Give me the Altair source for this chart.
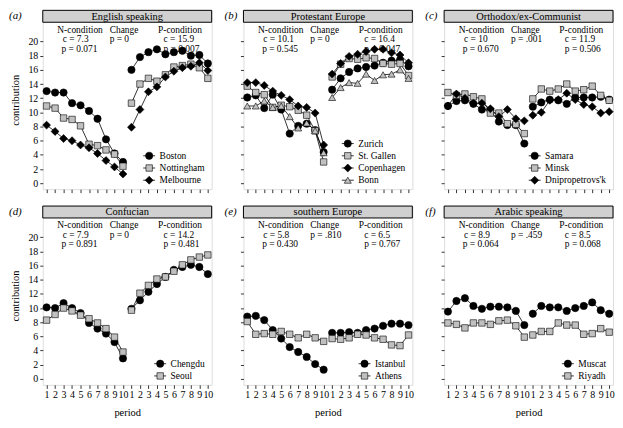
import altair as alt
import pandas as pd

FONT = "Liberation Serif"

periods = list(range(1, 21))

panel_letters = ["(a)", "(b)", "(c)", "(d)", "(e)", "(f)"]
panel_titles = ["English speaking", "Protestant Europe", "Orthodox/ex-Communist",
                "Confucian", "southern Europe", "Arabic speaking"]
n_c = ["7.3", "10.1", "10", "7.9", "5.8", "8.9"]
n_p = ["0.071", "0.545", "0.670", "0.891", "0.430", "0.064"]
change_p = ["0", "0", ".001", "0", ".810", ".459"]
p_c = ["15.9", "16.4", "11.9", "14.2", "6.5", "8.5"]
p_p = ["0.007", "0.047", "0.506", "0.481", "0.767", "0.068"]

# contributions, periods 1-10 (N-condition) then 1-10 (P-condition)
boston = [13.0, 12.8, 12.8, 11.3, 11.0, 10.2, 9.1, 6.2, 4.2, 3.0,
          16.0, 17.8, 18.5, 18.9, 18.2, 18.5, 18.7, 18.0, 18.1, 16.9]
nottingham = [10.9, 10.6, 9.2, 9.0, 8.1, 5.5, 5.3, 4.7, 4.1, 2.4,
              11.3, 14.0, 14.8, 14.4, 15.3, 16.4, 16.6, 16.8, 16.3, 14.8]
melbourne = [8.2, 7.3, 6.3, 6.0, 5.4, 5.0, 4.2, 3.2, 2.3, 1.3,
             7.9, 10.4, 12.9, 13.6, 15.0, 15.8, 16.3, 16.5, 17.0, 15.9]

zurich = [12.1, 12.4, 10.6, 12.5, 10.4, 7.0, 8.1, 8.4, 7.5, 4.4,
          13.2, 14.8, 15.7, 16.2, 16.4, 16.6, 17.0, 17.3, 17.4, 16.5]
st_gallen = [13.7, 12.8, 12.5, 10.7, 11.0, 10.8, 10.3, 9.6, 7.4, 3.0,
             15.0, 16.8, 17.6, 17.5, 17.7, 17.6, 16.9, 16.8, 16.9, 15.2]
copenhagen = [14.2, 14.2, 13.8, 13.0, 12.4, 11.8, 10.9, 10.7, 9.9, 5.4,
              15.4, 16.9, 17.9, 18.2, 18.6, 18.9, 18.9, 18.4, 18.1, 17.0]
bonn = [10.9, 10.9, 11.6, 10.7, 10.9, 9.4, 7.8, 8.5, 7.4, 4.3,
        12.1, 13.5, 14.2, 14.1, 15.4, 14.5, 15.3, 15.4, 16.0, 14.8]

samara = [10.9, 11.6, 11.7, 11.2, 10.4, 10.3, 8.7, 8.2, 8.2, 5.6,
          10.8, 11.4, 11.8, 11.7, 11.2, 12.1, 12.1, 12.1, 12.2, 11.8]
minsk = [12.8, 12.4, 12.6, 12.2, 11.9, 9.9, 9.9, 8.4, 8.3, 7.0,
         11.9, 13.3, 13.0, 13.3, 14.0, 13.0, 13.2, 13.7, 12.4, 11.7]
dnipropetrovsk = [10.9, 12.6, 12.0, 11.3, 11.3, 10.5, 9.4, 10.4, 9.1, 8.8,
                  9.6, 10.0, 11.7, 11.8, 12.7, 11.8, 11.1, 10.8, 9.9, 10.1]

chengdu = [10.1, 10.0, 10.7, 10.0, 9.3, 7.9, 7.1, 6.4, 5.2, 2.9,
           9.9, 11.1, 12.3, 13.4, 14.4, 15.4, 15.8, 16.1, 15.8, 14.8]
seoul = [8.3, 9.1, 10.0, 9.6, 9.0, 8.5, 7.9, 7.1, 5.9, 3.8,
         9.7, 12.1, 13.2, 14.1, 14.4, 15.2, 16.1, 16.8, 17.2, 17.5]

istanbul = [8.8, 8.9, 8.3, 6.9, 5.7, 4.5, 3.8, 3.1, 2.1, 1.3,
            6.5, 6.5, 6.6, 6.5, 6.9, 7.1, 7.5, 7.8, 7.8, 7.6]
athens = [8.1, 6.3, 6.4, 6.3, 6.7, 6.3, 5.8, 6.3, 5.8, 5.3,
          5.7, 5.6, 5.8, 6.3, 6.2, 5.8, 5.6, 4.8, 4.7, 6.2]

muscat = [9.5, 11.0, 11.4, 10.3, 9.9, 10.2, 10.2, 10.1, 9.6, 7.6,
          9.2, 10.3, 10.1, 10.1, 9.6, 10.0, 10.3, 10.8, 9.7, 9.2]
riyadh = [7.9, 7.7, 7.2, 7.9, 7.9, 7.7, 8.2, 8.3, 7.5, 5.9,
          6.2, 6.7, 6.7, 7.9, 7.6, 7.6, 6.3, 6.4, 7.1, 6.6]

panel_names = [
    ["Boston", "Nottingham", "Melbourne"],
    ["Zurich", "St. Gallen", "Copenhagen", "Bonn"],
    ["Samara", "Minsk", "Dnipropetrovs'k"],
    ["Chengdu", "Seoul"],
    ["Istanbul", "Athens"],
    ["Muscat", "Riyadh"],
]
panel_values = [
    [boston, nottingham, melbourne],
    [zurich, st_gallen, copenhagen, bonn],
    [samara, minsk, dnipropetrovsk],
    [chengdu, seoul],
    [istanbul, athens],
    [muscat, riyadh],
]
# styling
panel_markers = [
    ["circle", "square", "diamond"],
    ["circle", "square", "diamond", "triangle-up"],
    ["circle", "square", "diamond"],
    ["circle", "square"],
    ["circle", "square"],
    ["circle", "square"],
]
FILLS = {"circle": "black", "diamond": "black", "square": "#c0c0c0", "triangle-up": "#c0c0c0"}
SIZES = {"circle": 54, "diamond": 64, "square": 42, "triangle-up": 50}

W, H, STRIP = 170, 180, 12
XDOM = [0.55, 20.45]
YDOM = [-0.84, 24.4]

TIMES = {' ': 250, "'": 180, '.': 250, 'a': 444, 'b': 500, 'c': 444, 'd': 500, 'e': 444,
         'f': 333, 'g': 500, 'h': 500, 'i': 278, 'j': 278, 'k': 500, 'l': 278, 'm': 778,
         'n': 500, 'o': 500, 'p': 500, 'q': 500, 'r': 333, 's': 389, 't': 278, 'u': 500,
         'v': 500, 'w': 722, 'x': 500, 'y': 500, 'z': 444, 'A': 722, 'B': 667, 'C': 667,
         'D': 722, 'I': 333, 'M': 889, 'N': 722, 'R': 667, 'S': 556, 'Z': 611}


def text_w(s, size):
    return sum(TIMES.get(ch, 500) for ch in s) * size / 1000.0


def one(val):
    return pd.DataFrame({"t": [val]})


def txt(s, x, y, size=9.5, align="left", style="normal"):
    return alt.Chart(one(s)).mark_text(
        font=FONT, fontSize=size, align=align, baseline="middle", color="black",
        fontStyle=style
    ).encode(x=alt.value(x), y=alt.value(y), text="t:N")


def make_panel(idx):
    col, row = idx % 3, idx // 3
    names = panel_names[idx]
    vals = panel_values[idx]
    kinds = panel_markers[idx]
    recs = []
    for name, v in zip(names, vals):
        for p, yv in zip(periods, v):
            recs.append({"series": name, "period": p, "value": yv,
                         "cond": "N" if p <= 10 else "P"})
    df = pd.DataFrame(recs)

    xkw = dict(values=periods,
               labelExpr="datum.value > 10 ? datum.value - 10 : datum.value",
               grid=False, domain=False, tickSize=3.5, tickColor="black", tickWidth=0.8,
               labels=(row == 1), labelOverlap=False, labelFlush=False, labelPadding=1.5,
               labelFont=FONT, labelFontSize=10, labelColor="black",
               title=("period" if row == 1 else None), titleFont=FONT, titleFontSize=10.5,
               titleFontWeight="normal", titleColor="black", titlePadding=8)
    ykw = dict(values=list(range(0, 21, 2)), grid=False, domain=False, tickSize=3,
               tickColor="black", tickWidth=0.8, labels=(col == 0), labelFont=FONT,
               labelFontSize=10, labelColor="black", labelPadding=2,
               title=("contribution" if col == 0 else None), titleFont=FONT,
               titleFontSize=10.5, titleFontWeight="normal", titleColor="black",
               titlePadding=7)
    x = alt.X("period:Q", scale=alt.Scale(domain=XDOM, nice=False, zero=False),
              axis=alt.Axis(**xkw))
    y = alt.Y("value:Q", scale=alt.Scale(domain=YDOM, nice=False, zero=False),
              axis=alt.Axis(**ykw))

    layers = []
    # strip header
    layers.append(alt.Chart(one(panel_titles[idx])).mark_rect(
        fill="#d0d0d0", stroke="black", strokeWidth=1
    ).encode(x=alt.value(0), x2=alt.value(W), y=alt.value(0), y2=alt.value(STRIP)))
    layers.append(txt(panel_titles[idx], W / 2, STRIP / 2 + 0.5, size=10.5, align="center"))
    layers.append(txt(panel_letters[idx], -34 if col == 0 else -19, STRIP / 2,
                      size=11, style="italic"))
    # annotations
    layers.append(txt("N-condition", 14.6, 19.5))
    layers.append(txt("c = " + n_c[idx], 20, 29))
    layers.append(txt("p = " + n_p[idx], 18.8, 38.5))
    layers.append(txt("Change", 67.3, 19.5))
    layers.append(txt("p = " + change_p[idx], 67.3, 29))
    layers.append(txt("P-condition", 116, 19.5))
    layers.append(txt("c = " + p_c[idx], 121.5, 29))
    layers.append(txt("p = " + p_p[idx], 121.5, 38.5))

    # lines
    layers.append(alt.Chart(df).mark_line(color="black", strokeWidth=0.8).encode(
        x=x, y=y, detail=["series:N", "cond:N"]))
    # points
    for name, kind in zip(names, kinds):
        layers.append(alt.Chart(df).transform_filter(alt.datum.series == name).mark_point(
            shape=kind, size=SIZES[kind], filled=True, fill=FILLS[kind], stroke="black",
            strokeWidth=0.6, opacity=1).encode(x=x, y=y))

    # legend
    n = len(names)
    maxw = max(text_w(s, 9.5) for s in names)
    xl = W - 7 - maxw
    xm = xl - 10.5
    for i, (name, kind) in enumerate(zip(names, kinds)):
        ly = H - 9 - (n - 1 - i) * 12.3
        layers.append(alt.Chart(one(name)).mark_rule(color="black", strokeWidth=0.8).encode(
            x=alt.value(xm - 6), x2=alt.value(xm + 6), y=alt.value(ly)))
        layers.append(alt.Chart(one(name)).mark_point(
            shape=kind, size=SIZES[kind], filled=True, fill=FILLS[kind], stroke="black",
            strokeWidth=0.6, opacity=1).encode(x=alt.value(xm), y=alt.value(ly)))
        layers.append(txt(name, xl, ly))

    return alt.layer(*layers).properties(width=W, height=H)


panels = [make_panel(i) for i in range(6)]
top = alt.hconcat(*panels[:3], spacing=10)
bottom = alt.hconcat(*panels[3:], spacing=10)
chart = alt.vconcat(top, bottom, spacing=11).properties(
    padding={"left": 0, "top": 0, "right": 0, "bottom": 0}
).configure_view(stroke="black", strokeWidth=1).configure(font=FONT)

chart.save("out.html", embed_options={"renderer": "svg", "actions": False})
